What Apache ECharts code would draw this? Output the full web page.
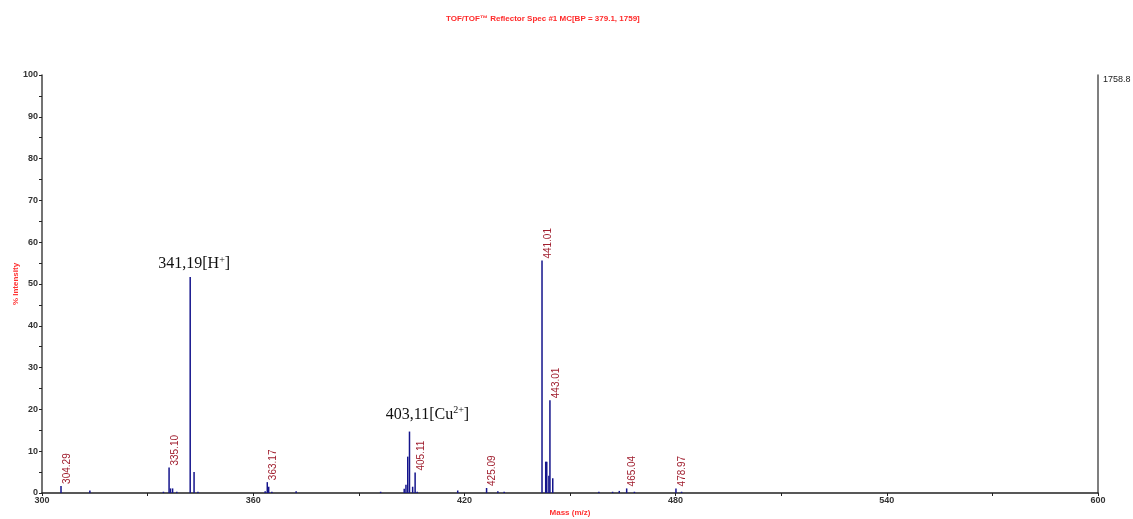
<!DOCTYPE html>
<html>
<head>
<meta charset="utf-8">
<script src="https://cdn.jsdelivr.net/npm/echarts@6/dist/echarts.min.js"></script>
<style>
  html, body { margin: 0; padding: 0; background: #fff; }
  #chart { width: 1133px; height: 519px; }
</style>
</head>
<body>
<div id="chart"></div>
<script>
// 峰位置 (m/z) 与相对强度 (%)
const masses = [305.4, 313.6, 334.5, 336.1, 336.5, 337.1, 338.3, 342.1, 343.2, 344.3,
  363.4, 364.0, 364.4, 365.3, 372.2, 396.2, 402.9, 403.4, 403.9, 404.4,
  405.3, 406.0, 406.6, 418.1, 426.3, 429.5, 431.3, 442.05, 443.1, 443.4,
  444.0, 444.3, 445.1, 458.2, 462.1, 464.0, 466.1, 468.3, 480.1, 481.7];
const intensities = [1.7, 0.6, 0.3, 6.1, 1.1, 1.1, 0.3, 51.7, 5.0, 0.3,
  0.4, 2.6, 1.5, 0.3, 0.4, 0.3, 1.0, 2.0, 8.7, 14.7,
  1.5, 4.9, 0.3, 0.6, 1.2, 0.4, 0.3, 55.6, 7.5, 7.5,
  4.1, 22.2, 3.5, 0.3, 0.3, 0.5, 1.1, 0.3, 1.1, 0.3];
// 峰标注
const labelAt = [305.4, 336.1, 364.0, 406.0, 426.3, 442.05, 444.3, 466.1, 480.1];
const labelTexts = ['304.29', '335.10', '363.17', '405.11', '425.09', '441.01', '443.01', '465.04', '478.97'];
const annotateAt = [342.1, 404.4];
const annotateTexts = ['{a|341,19[H}{s|+}{a|]}', '{a|403,11[Cu}{s|2+}{a|]}'];
const annotateOffsets = [[4, 0], [18, -4]];
const xTicks = [300, 360, 420, 480, 540, 600];
const maxCounts = '1758.8';

const axisFont = "'Liberation Sans Narrow', 'Arial Narrow', 'Liberation Sans', sans-serif";

const seriesData = masses.map((m, i) => {
  const item = { value: [m, intensities[i]] };
  const li = labelAt.indexOf(m);
  const ai = annotateAt.indexOf(m);
  if (li >= 0) {
    item.label = {
      show: true,
      position: 'top',
      distance: 1,
      rotate: 90,
      align: 'left',
      verticalAlign: 'middle',
      offset: [1, 6], // 旋转后的坐标系：y 向右
      color: '#a01e2e',
      fontSize: 10,
      fontFamily: "'Liberation Sans', sans-serif",
      formatter: labelTexts[li]
    };
  } else if (ai >= 0) {
    item.label = {
      show: true,
      position: 'top',
      distance: 4,
      offset: annotateOffsets[ai],
      formatter: annotateTexts[ai],
      rich: {
        a: { fontFamily: "'Liberation Serif', 'Times New Roman', serif", fontSize: 16, color: '#111' },
        s: { fontFamily: "'Liberation Serif', 'Times New Roman', serif", fontSize: 10, color: '#111', padding: [0, 0, 8, 0] }
      }
    };
  }
  return item;
});

const chart = echarts.init(document.getElementById('chart'));
chart.setOption({
  animation: false,
  title: {
    text: 'TOF/TOF™ Reflector Spec #1 MC[BP = 379.1, 1759]',
    left: 441,
    top: 10,
    textStyle: { color: '#ff2a2a', fontSize: 8, fontWeight: 'bold', fontFamily: axisFont }
  },
  grid: { left: 42, right: 35, top: 75, bottom: 26, outerBoundsMode: 'none', containLabel: false },
  xAxis: {
    type: 'value',
    min: 300,
    max: 600,
    interval: 30,
    name: 'Mass (m/z)',
    nameLocation: 'middle',
    nameGap: 16,
    nameMoveOverlap: false,
    nameTextStyle: { color: '#ff3030', fontSize: 8, fontWeight: 'bold', fontFamily: axisFont },
    axisLine: { lineStyle: { color: '#222', width: 1.5 } },
    axisTick: { length: 3, lineStyle: { color: '#222' } },
    axisLabel: {
      margin: 3,
      color: '#333',
      fontSize: 9,
      fontWeight: 'bold',
      fontFamily: axisFont,
      formatter: (v) => (xTicks.indexOf(v) >= 0 ? String(v) : '')
    },
    splitLine: { show: false }
  },
  yAxis: [
    {
      type: 'value',
      min: 0,
      max: 100,
      interval: 10,
      name: '% Intensity',
      nameLocation: 'middle',
      nameGap: 22,
      nameMoveOverlap: false,
      nameTextStyle: { color: '#ff3030', fontSize: 8, fontWeight: 'bold', fontFamily: axisFont },
      axisLine: { show: true, lineStyle: { color: '#444', width: 1.5 } },
      axisTick: { length: 3, lineStyle: { color: '#222' } },
      minorTick: { show: true, splitNumber: 2, length: 3, lineStyle: { color: '#222' } },
      axisLabel: { margin: 4, color: '#333', fontSize: 9, fontWeight: 'bold', fontFamily: axisFont },
      splitLine: { show: false }
    },
    {
      type: 'value',
      position: 'right',
      min: 0,
      max: 100,
      interval: 100,
      axisLine: { show: true, lineStyle: { color: '#555', width: 1.5 } },
      axisTick: { show: false },
      axisLabel: {
        margin: 5,
        color: '#222',
        fontSize: 9,
        fontFamily: axisFont,
        verticalAlign: 'top',
        formatter: (v) => (v === 100 ? maxCounts : '')
      },
      splitLine: { show: false }
    }
  ],
  series: [
    {
      type: 'bar',
      barWidth: 1.5,
      itemStyle: { color: '#14148c' },
      data: seriesData
    }
  ]
});
</script>
</body>
</html>
